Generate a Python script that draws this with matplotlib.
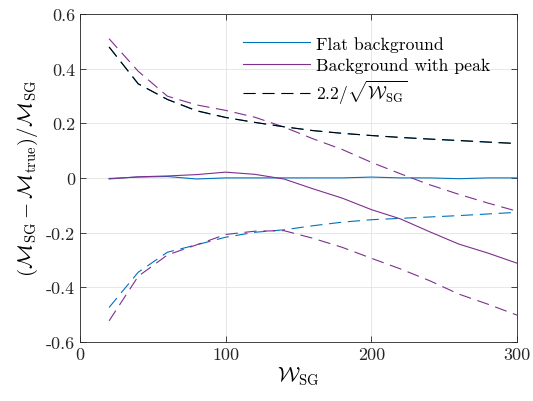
import numpy as np
import matplotlib
matplotlib.use('Agg')
import matplotlib.pyplot as plt

plt.rcParams['font.family'] = 'serif'
plt.rcParams['font.serif'] = ['cmr10']
plt.rcParams['mathtext.fontset'] = 'cm'
plt.rcParams['axes.unicode_minus'] = False

# window sizes
w_sg = [20, 40, 60, 80, 100, 120, 140, 160, 180, 200, 220, 240, 260, 280, 300]

# flat background: mean and +/- spread
flat_mean = [-0.002, 0.003, 0.005, -0.004, 0.0, 0.0, 0.0, 0.0, 0.0, 0.003,
             0.0, 0.0, -0.003, 0.0, 0.0]
flat_hi = [0.479, 0.344, 0.287, 0.245, 0.221, 0.203, 0.187, 0.173, 0.163,
           0.155, 0.148, 0.142, 0.136, 0.131, 0.125]
flat_lo = [-0.474, -0.345, -0.272, -0.245, -0.217, -0.199, -0.19, -0.175,
           -0.162, -0.153, -0.148, -0.143, -0.138, -0.132, -0.126]

# background with peak
peak_mean = [-0.004, 0.004, 0.007, 0.012, 0.021, 0.013, -0.004, -0.04,
             -0.074, -0.116, -0.15, -0.197, -0.242, -0.275, -0.312]
peak_hi = [0.509, 0.39, 0.299, 0.267, 0.247, 0.222, 0.186, 0.143, 0.104,
           0.057, 0.015, -0.025, -0.06, -0.092, -0.122]
peak_lo = [-0.523, -0.36, -0.282, -0.245, -0.207, -0.195, -0.193, -0.221,
           -0.254, -0.294, -0.333, -0.376, -0.425, -0.462, -0.502]

# 2.2/sqrt(W) reference
ref_curve = [0.479, 0.344, 0.287, 0.246, 0.221, 0.203, 0.187, 0.173, 0.163,
             0.155, 0.148, 0.142, 0.137, 0.131, 0.126]

blue = '#0072BD'
purple = '#7E2F8E'

fig = plt.figure(figsize=(5.33, 4.02), dpi=100)
ax = fig.add_axes([0.150, 0.147, 0.820, 0.816])

lw = 0.8
dash = (0, (11, 6))
h1, = ax.plot(w_sg, flat_mean, color=blue, lw=lw)
ax.plot(w_sg, flat_hi, color=blue, lw=lw, linestyle=dash)
ax.plot(w_sg, flat_lo, color=blue, lw=lw, linestyle=dash)
h2, = ax.plot(w_sg, peak_mean, color=purple, lw=lw)
ax.plot(w_sg, peak_hi, color=purple, lw=lw, linestyle=dash)
ax.plot(w_sg, peak_lo, color=purple, lw=lw, linestyle=dash)
h3, = ax.plot(w_sg, ref_curve, color='black', lw=lw, linestyle=dash)

ax.set_xlim(0, 300)
ax.set_ylim(-0.6, 0.6)
ax.set_xticks([0, 100, 200, 300])
ax.set_xticklabels(['0', '100', '200', '300'])
yt = [-0.6, -0.4, -0.2, 0, 0.2, 0.4, 0.6]
ax.set_yticks(yt)
ax.set_yticklabels(['-0.6', '-0.4', '-0.2', '0', '0.2', '0.4', '0.6'])
ax.tick_params(direction='in', top=True, right=True, labelsize=13,
               length=4, width=0.6, colors='#262626')
ax.grid(True, color='#e3e3e3', lw=0.6)
ax.set_axisbelow(True)
for s in ax.spines.values():
    s.set_color('#262626')
    s.set_linewidth(0.6)

ax.set_xlabel(r'$\mathcal{W}_{\rm SG}$', fontsize=15, labelpad=2)
ax.set_ylabel(r'$(\mathcal{M}_{\rm SG}-\mathcal{M}_{\rm true})/\mathcal{M}_{\rm SG}$',
              fontsize=15, labelpad=4)

ax.legend([h1, h2, h3], ['Flat background', 'Background with peak',
                         r'$2.2/\sqrt{\mathcal{W}_{\rm SG}}$'],
          loc='upper left', bbox_to_anchor=(0.373, 0.933), frameon=False,
          fontsize=12.7, handlelength=3.8, labelspacing=0.3, borderaxespad=0,
          borderpad=0, handletextpad=0.35)

fig.savefig('out.png', dpi=100)
